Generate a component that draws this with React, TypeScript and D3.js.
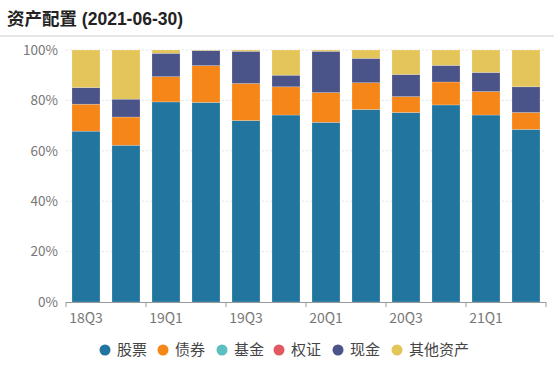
import React from 'react';
import * as d3 from 'd3';

// quarters on the x axis
const quarters = ['18Q3', '18Q4', '19Q1', '19Q2', '19Q3', '19Q4', '20Q1', '20Q2', '20Q3', '20Q4', '21Q1', '21Q2'];

// percent of total assets
const stocks = [67.8, 62.2, 79.4, 79.2, 72.0, 74.2, 71.3, 76.4, 75.2, 78.2, 74.2, 68.5];
const bonds = [10.7, 11.2, 10.0, 14.6, 14.7, 11.2, 11.8, 10.6, 6.3, 9.1, 9.3, 6.7];
const funds = [0, 0, 0, 0, 0, 0, 0, 0, 0, 0, 0, 0];
const warrants = [0, 0, 0, 0, 0, 0, 0, 0, 0, 0, 0, 0];
const cash = [6.6, 7.1, 9.3, 6.0, 12.8, 4.6, 16.4, 9.7, 8.8, 6.6, 7.6, 10.2];
const others = [14.9, 19.5, 1.3, 0.2, 0.5, 10.0, 0.5, 3.3, 9.7, 6.1, 8.9, 14.6];

const seriesNames = ['股票', '债券', '基金', '权证', '现金', '其他资产'];
const seriesColors = ['#21759f', '#f68618', '#5bbfc0', '#e05a5f', '#4a5489', '#e3c55a'];
const yTicks = [0, 20, 40, 60, 80, 100];

const W = 554;
const H = 369;
const margin = { top: 50, right: 8, bottom: 67, left: 66 };

const cjk = '"Noto Sans CJK SC", "Open Sans", sans-serif';

export default function App() {
  const rows = quarters.map((q, i) => ({
    q,
    s0: stocks[i], s1: bonds[i], s2: funds[i], s3: warrants[i], s4: cash[i], s5: others[i],
  }));
  const stack = d3.stack<any>().keys(['s0', 's1', 's2', 's3', 's4', 's5'])(rows);

  const x = d3.scaleBand()
    .domain(quarters)
    .range([margin.left, W - margin.right])
    .paddingInner(0.3)
    .paddingOuter(0.15);
  const y = d3.scaleLinear()
    .domain([0, 100])
    .range([H - margin.bottom, margin.top]);

  const step = x.step();
  const x0 = margin.left;
  const yBase = y(0);

  // legend layout: circle + label, varying widths
  const legendX = [105, 163, 222, 279, 338, 397];

  return (
    <svg width={W} height={H} style={{ position: 'absolute', left: 0, top: 0, background: '#fff' }}>
      <text x={7} y={25} fontFamily={'"Liberation Sans", "Noto Sans CJK SC", sans-serif'} fontWeight="bold" fontSize={17.5} fill="#222">
        资产配置 (2021-06-30)
      </text>
      <rect x={0} y={35} width={W} height={2} fill="#e6e6e6" />

      {/* grid */}
      {yTicks.map(t => (
        <g key={t}>
          {t > 0 && (
            <line x1={x0} x2={W - margin.right} y1={y(t)} y2={y(t)} stroke="#e4e4e4" strokeDasharray="2,2" />
          )}
          <text x={58} y={y(t)} dy="0.35em" textAnchor="end" fontFamily={cjk} fontSize={13.5} fill="#777">
            {t}%
          </text>
        </g>
      ))}

      {/* bars */}
      {stack.map((layer, k) => (
        <g key={k} fill={seriesColors[k]}>
          {layer.map((d, i) => {
            const h = y(d[0]) - y(d[1]);
            if (h <= 0) return null;
            return (
              <rect
                key={i}
                x={x(quarters[i])!}
                y={y(d[1])}
                width={x.bandwidth()}
                height={h}
                stroke="#ffffff"
                strokeOpacity={0.35}
                strokeWidth={0.6}
              />
            );
          })}
        </g>
      ))}

      {/* x axis */}
      <line x1={x0} x2={W - margin.right} y1={yBase + 0.5} y2={yBase + 0.5} stroke="#999" />
      {quarters.map((q, i) => i % 2 === 0 ? (
        <g key={q}>
          <line x1={x0 + i * step} x2={x0 + i * step} y1={yBase} y2={yBase + 5} stroke="#999" />
          <text x={x(q)! + x.bandwidth() / 2} y={yBase + 21} textAnchor="middle" fontFamily={cjk} fontSize={14} fill="#777">
            {q}
          </text>
        </g>
      ) : null)}
      <line x1={W - margin.right} x2={W - margin.right} y1={yBase} y2={yBase + 5} stroke="#999" />

      {/* legend */}
      {seriesNames.map((name, k) => (
        <g key={name} transform={`translate(${legendX[k]},350)`}>
          <circle r={5.5} fill={seriesColors[k]} />
          <text x={12} dy="0.36em" fontFamily={cjk} fontSize={15} fill="#444">
            {name}
          </text>
        </g>
      ))}
    </svg>
  );
}
